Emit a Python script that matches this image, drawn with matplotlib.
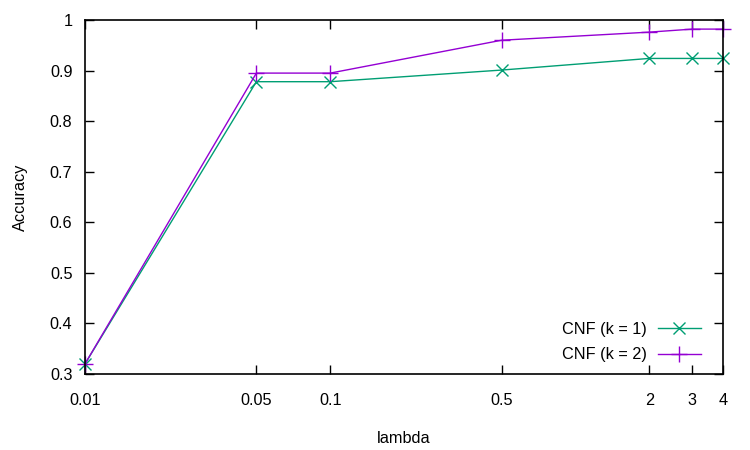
import matplotlib
matplotlib.use("Agg")
import matplotlib.pyplot as plt

plt.rcParams['font.family'] = ['Liberation Sans', 'DejaVu Sans']

lam = [0.01, 0.05, 0.1, 0.5, 2, 3, 4]
acc_k1 = [0.32, 0.878, 0.878, 0.901, 0.924, 0.924, 0.924]
acc_k2 = [0.32, 0.895, 0.895, 0.960, 0.976, 0.982, 0.982]

xticks = [0.01, 0.05, 0.1, 0.5, 2, 3, 4]
xtick_labels = ["0.01", "0.05", "0.1", "0.5", "2", "3", "4"]
yticks = [0.3, 0.4, 0.5, 0.6, 0.7, 0.8, 0.9, 1.0]
ytick_labels = ["0.3", "0.4", "0.5", "0.6", "0.7", "0.8", "0.9", "1"]

fig = plt.figure(figsize=(7.5, 4.5), dpi=100)
ax = fig.add_axes([85/750, 76/450, 638/750, 354/450])

ax.plot(lam, acc_k1, color='#009e73', lw=1, marker='x', ms=9, mew=1,
        label='CNF (k = 1)', clip_on=False)
ax.plot(lam, acc_k2, color='#9400d3', lw=1, marker='+', ms=12, mew=1,
        label='CNF (k = 2)', clip_on=False)

ax.set_xscale('log')
ax.set_xlim(0.01, 4)
ax.set_ylim(0.3, 1.0)
ax.set_xticks(xticks)
ax.set_xticklabels(xtick_labels)
ax.minorticks_off()
ax.set_yticks(yticks)
ax.set_yticklabels(ytick_labels)
ax.tick_params(direction='in', length=6.5, width=1, top=True, right=True,
               labelsize=11.7, colors='black')
ax.tick_params(axis='x', pad=14)
ax.tick_params(axis='y', pad=9)

for s in ax.spines.values():
    s.set_linewidth(1.2)

ax.set_xlabel('lambda', fontsize=11.7, labelpad=16)
ax.set_ylabel('Accuracy', fontsize=11.7, labelpad=16)

ax.legend(loc='lower right', bbox_to_anchor=(0.975, 0.015), frameon=False,
          markerfirst=False, fontsize=11.7, handlelength=2.6,
          handletextpad=0.7, labelspacing=0.65, borderaxespad=0.0)

fig.savefig('out.png', dpi=100)
